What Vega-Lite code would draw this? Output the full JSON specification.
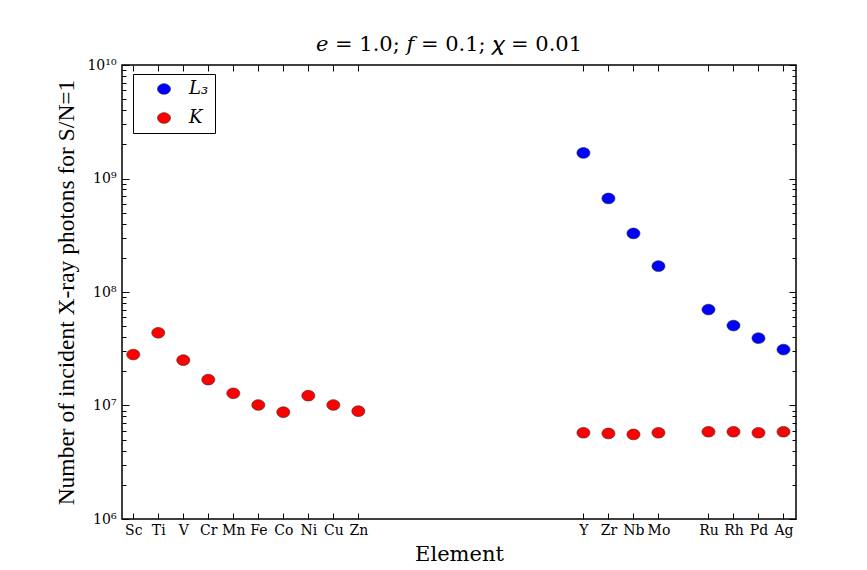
{
  "$schema": "https://vega.github.io/schema/vega-lite/v6.json",
  "autosize": "none",
  "width": 674,
  "height": 454,
  "padding": {"left": 122, "top": 65, "right": 71, "bottom": 51},
  "background": "white",
  "title": {"text": "𝑒 = 1.0; 𝑓 = 0.1; 𝜒 = 0.01", "font": "DejaVu Serif", "fontSize": 21, "fontWeight": "normal", "offset": 3, "dx": -10, "anchor": "middle", "color": "black"},
  "data": {"values": [
    {"el": "Y", "z": 39, "series": "L₃", "n": 1680000000},
    {"el": "Zr", "z": 40, "series": "L₃", "n": 667000000},
    {"el": "Nb", "z": 41, "series": "L₃", "n": 328000000},
    {"el": "Mo", "z": 42, "series": "L₃", "n": 169000000},
    {"el": "Ru", "z": 44, "series": "L₃", "n": 70000000},
    {"el": "Rh", "z": 45, "series": "L₃", "n": 50600000},
    {"el": "Pd", "z": 46, "series": "L₃", "n": 39200000},
    {"el": "Ag", "z": 47, "series": "L₃", "n": 31100000},
    {"el": "Sc", "z": 21, "series": "K", "n": 28100000},
    {"el": "Ti", "z": 22, "series": "K", "n": 43700000},
    {"el": "V", "z": 23, "series": "K", "n": 25100000},
    {"el": "Cr", "z": 24, "series": "K", "n": 16900000},
    {"el": "Mn", "z": 25, "series": "K", "n": 12800000},
    {"el": "Fe", "z": 26, "series": "K", "n": 10100000},
    {"el": "Co", "z": 27, "series": "K", "n": 8730000},
    {"el": "Ni", "z": 28, "series": "K", "n": 12200000},
    {"el": "Cu", "z": 29, "series": "K", "n": 10100000},
    {"el": "Zn", "z": 30, "series": "K", "n": 8910000},
    {"el": "Y", "z": 39, "series": "K", "n": 5750000},
    {"el": "Zr", "z": 40, "series": "K", "n": 5670000},
    {"el": "Nb", "z": 41, "series": "K", "n": 5560000},
    {"el": "Mo", "z": 42, "series": "K", "n": 5750000},
    {"el": "Ru", "z": 44, "series": "K", "n": 5870000},
    {"el": "Rh", "z": 45, "series": "K", "n": 5870000},
    {"el": "Pd", "z": 46, "series": "K", "n": 5750000},
    {"el": "Ag", "z": 47, "series": "K", "n": 5870000}
  ]},
  "layer": [
    {
      "mark": {"type": "point", "filled": true, "shape": "M-1,0A1,0.82,0,1,1,1,0A1,0.82,0,1,1,-1,0Z", "size": 170, "stroke": "#333333", "strokeWidth": 0.6, "opacity": 1},
      "encoding": {
        "x": {"field": "z", "type": "quantitative",
          "scale": {"domain": [20.55, 47.5], "nice": false, "zero": false},
          "axis": {"orient": "bottom", "values": [21,22,23,24,25,26,27,28,29,30,39,40,41,42,44,45,46,47],
            "labelExpr": "['Sc','Ti','V','Cr','Mn','Fe','Co','Ni','Cu','Zn','','','','','','','','','Y','Zr','Nb','Mo','','Ru','Rh','Pd','Ag'][datum.value-21]",
            "tickSize": -6, "tickColor": "black", "tickWidth": 1,
            "labelFont": "DejaVu Serif", "labelFontSize": 14, "labelColor": "black", "labelPadding": 10,
            "labelOverlap": false, "labelFlush": false,
            "title": "Element", "titleFont": "DejaVu Serif", "titleFontSize": 21, "titleFontWeight": "normal", "titleColor": "black", "titlePadding": 6,
            "domain": false, "grid": false}},
        "y": {"field": "n", "type": "quantitative",
          "scale": {"type": "log", "domain": [1000000, 10000000000], "nice": false},
          "axis": {"orient": "left",
            "values": [1e6,2e6,3e6,4e6,5e6,6e6,7e6,8e6,9e6,1e7,2e7,3e7,4e7,5e7,6e7,7e7,8e7,9e7,1e8,2e8,3e8,4e8,5e8,6e8,7e8,8e8,9e8,1e9,2e9,3e9,4e9,5e9,6e9,7e9,8e9,9e9,1e10],
            "labelExpr": "abs(log(datum.value)/LN10 - round(log(datum.value)/LN10)) < 0.000001 ? ['10⁶','10⁷','10⁸','10⁹','10¹⁰'][round(log(datum.value)/LN10)-6] : ''",
            "tickSize": {"condition": {"test": "abs(log(datum.value)/LN10 - round(log(datum.value)/LN10)) < 0.000001", "value": -7}, "value": -4},
            "tickColor": "black", "tickWidth": 1,
            "labelFont": "DejaVu Serif", "labelFontSize": 14, "labelColor": "black", "labelPadding": 13,
            "labelOverlap": false, "labelFlush": false, "labelBound": false,
            "title": "Number of incident X-ray photons for S/N=1", "titleFont": "Liberation Serif", "titleFontSize": 23.5, "titleFontWeight": "normal", "titleColor": "black", "titlePadding": 8,
            "domain": false, "grid": false}},
        "color": {"field": "series", "type": "nominal",
          "scale": {"domain": ["L₃", "K"], "range": ["#0000ff", "#ff0000"]},
          "legend": {"orient": "none", "legendX": 11, "legendY": 9, "title": null,
            "strokeColor": "black", "fillColor": "white", "padding": 6, "cornerRadius": 0,
            "symbolType": "M-1,0A1,0.82,0,1,1,1,0A1,0.82,0,1,1,-1,0Z", "symbolSize": 170,
            "symbolStrokeColor": "#333333", "symbolStrokeWidth": 0.6, "symbolOffset": 16,
            "labelFont": "DejaVu Serif", "labelFontStyle": "italic", "labelFontSize": 18, "labelColor": "black",
            "labelOffset": 16, "rowPadding": 11}}
      }
    },
    {
      "mark": {"type": "point", "opacity": 0},
      "encoding": {
        "x": {"field": "z", "type": "quantitative",
          "axis": {"orient": "top", "values": [21,22,23,24,25,26,27,28,29,30,39,40,41,42,44,45,46,47],
            "labels": false, "tickSize": -6, "tickColor": "black", "tickWidth": 1, "title": null, "domain": false, "grid": false}},
        "y": {"field": "n", "type": "quantitative",
          "axis": {"orient": "right",
            "values": [1e6,2e6,3e6,4e6,5e6,6e6,7e6,8e6,9e6,1e7,2e7,3e7,4e7,5e7,6e7,7e7,8e7,9e7,1e8,2e8,3e8,4e8,5e8,6e8,7e8,8e8,9e8,1e9,2e9,3e9,4e9,5e9,6e9,7e9,8e9,9e9,1e10],
            "labels": false,
            "tickSize": {"condition": {"test": "abs(log(datum.value)/LN10 - round(log(datum.value)/LN10)) < 0.000001", "value": -7}, "value": -4},
            "tickColor": "black", "tickWidth": 1, "title": null, "domain": false, "grid": false}}
      }
    }
  ],
  "resolve": {"axis": {"x": "independent", "y": "independent"}},
  "config": {"view": {"stroke": "black", "strokeWidth": 1.5}}
}
